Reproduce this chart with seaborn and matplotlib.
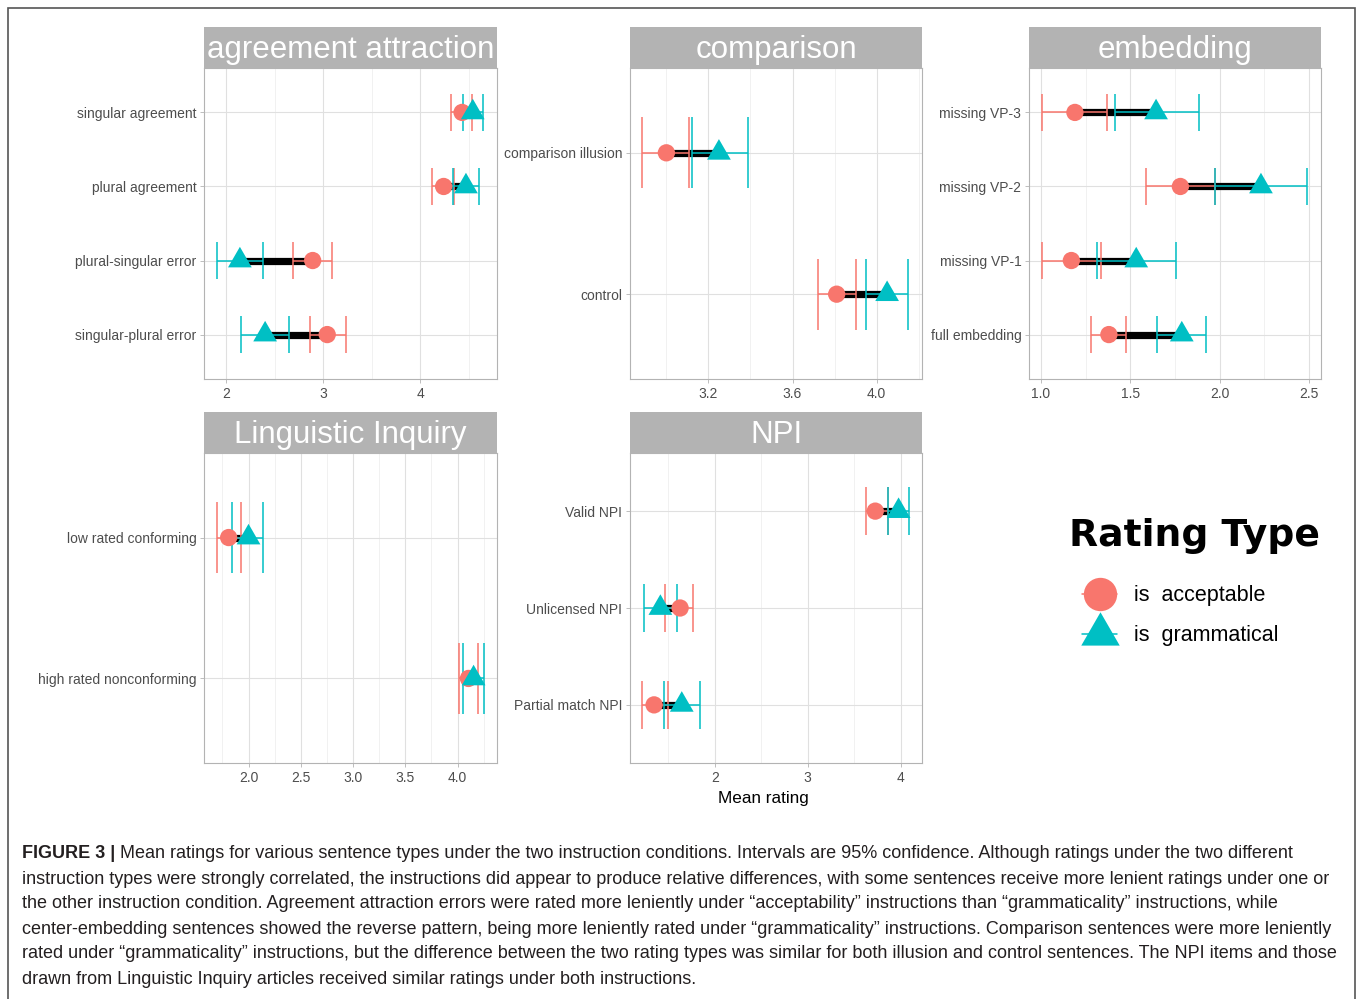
import matplotlib
matplotlib.use("Agg")
import matplotlib.pyplot as plt
import numpy as np
import pandas as pd
import seaborn as sns
from matplotlib.lines import Line2D
from matplotlib.path import Path
from matplotlib.patches import Rectangle
from matplotlib.markers import MarkerStyle
from matplotlib import font_manager

# ---------------- data ----------------
panel_titles = ["agreement attraction", "comparison", "embedding", "Linguistic Inquiry", "NPI"]
rating_types = ["is  acceptable", "is  grammatical"]

agr_items = ["singular agreement", "plural agreement", "plural-singular error", "singular-plural error"]
agr_acc = [4.43, 4.24, 2.89, 3.04]
agr_acc_lo = [4.32, 4.12, 2.69, 2.86]
agr_acc_hi = [4.53, 4.35, 3.09, 3.23]
agr_gram = [4.54, 4.47, 2.14, 2.40]
agr_gram_lo = [4.44, 4.34, 1.90, 2.15]
agr_gram_hi = [4.65, 4.60, 2.38, 2.65]

comp_items = ["comparison illusion", "control"]
comp_acc = [3.00, 3.81]
comp_acc_lo = [2.885, 3.72]
comp_acc_hi = [3.107, 3.90]
comp_gram = [3.25, 4.05]
comp_gram_lo = [3.12, 3.95]
comp_gram_hi = [3.39, 4.15]

emb_items = ["missing VP-3", "missing VP-2", "missing VP-1", "full embedding"]
emb_acc = [1.19, 1.78, 1.17, 1.38]
emb_acc_lo = [1.007, 1.585, 1.004, 1.278]
emb_acc_hi = [1.372, 1.976, 1.337, 1.477]
emb_gram = [1.644, 2.231, 1.533, 1.788]
emb_gram_lo = [1.413, 1.976, 1.313, 1.648]
emb_gram_hi = [1.883, 2.49, 1.758, 1.924]

li_items = ["low rated conforming", "high rated nonconforming"]
li_acc = [1.81, 4.105]
li_acc_lo = [1.70, 4.01]
li_acc_hi = [1.93, 4.198]
li_gram = [2.00, 4.154]
li_gram_lo = [1.846, 4.05]
li_gram_hi = [2.138, 4.256]

npi_items = ["Valid NPI", "Unlicensed NPI", "Partial match NPI"]
npi_acc = [3.727, 1.627, 1.347]
npi_acc_lo = [3.627, 1.469, 1.214]
npi_acc_hi = [3.862, 1.767, 1.497]
npi_gram = [3.978, 1.415, 1.645]
npi_gram_lo = [3.864, 1.239, 1.458]
npi_gram_hi = [4.09, 1.598, 1.846]

x_label = "Mean rating"
legend_title = "Rating Type"
caption_bold = "FIGURE 3 |"
caption_lines = [
    "Mean ratings for various sentence types under the two instruction conditions. Intervals are 95% confidence. Although ratings under the two different",
    "instruction types were strongly correlated, the instructions did appear to produce relative differences, with some sentences receive more lenient ratings under one or",
    "the other instruction condition. Agreement attraction errors were rated more leniently under \u201cacceptability\u201d instructions than \u201cgrammaticality\u201d instructions, while",
    "center-embedding sentences showed the reverse pattern, being more leniently rated under \u201cgrammaticality\u201d instructions. Comparison sentences were more leniently",
    "rated under \u201cgrammaticality\u201d instructions, but the difference between the two rating types was similar for both illusion and control sentences. The NPI items and those",
    "drawn from Linguistic Inquiry articles received similar ratings under both instructions.",
]

# ---------------- style ----------------
sns.set_theme(style="white")
plt.rcParams['font.family'] = ['Liberation Sans', 'DejaVu Sans']

W, H, DPI = 1358, 999, 100
fig = plt.figure(figsize=(W / DPI, H / DPI), dpi=DPI)
fig.patch.set_facecolor("white")

RED = "#F8766D"
TEAL = "#00BFC4"
STRIP = "#B3B3B3"

tri_path = Path([(-1, -0.577), (1, -0.577), (0, 1.155), (-1, -0.577)],
                [Path.MOVETO, Path.LINETO, Path.LINETO, Path.CLOSEPOLY])
TRI = MarkerStyle(tri_path)


def rect(x0, y0, x1, y1):
    return [x0 / W, 1 - y1 / H, (x1 - x0) / W, (y1 - y0) / H]


def draw_panel(box, strip_box, title, items, acc, acc_lo, acc_hi, gram, gram_lo, gram_hi,
               xlim, major, minor, fmt):
    ax = fig.add_axes(rect(*box))
    n = len(items)
    pos = np.arange(n)
    df = pd.DataFrame({
        "pos": np.concatenate([pos, pos]),
        "mean": list(acc) + list(gram),
        "lo": list(acc_lo) + list(gram_lo),
        "hi": list(acc_hi) + list(gram_hi),
        "type": [rating_types[0]] * n + [rating_types[1]] * n,
    })
    # connecting segment between the two means
    ax.hlines(pos, acc, gram, color="black", lw=5.2, zorder=2)
    for t, col in zip(rating_types, [RED, TEAL]):
        sub = df[df["type"] == t]
        ax.hlines(sub["pos"], sub["lo"], sub["hi"], color=col, lw=1.1, zorder=3)
        ax.vlines(sub["lo"], sub["pos"] - 0.25, sub["pos"] + 0.25, color=col, lw=1.1, zorder=3)
        ax.vlines(sub["hi"], sub["pos"] - 0.25, sub["pos"] + 0.25, color=col, lw=1.1, zorder=3)
    sns.scatterplot(data=df, x="mean", y="pos", hue="type", style="type", size="type",
                    palette={rating_types[0]: RED, rating_types[1]: TEAL},
                    markers={rating_types[0]: "o", rating_types[1]: TRI},
                    sizes={rating_types[0]: 155, rating_types[1]: 390},
                    linewidth=0, legend=False, ax=ax, zorder=4)
    ax.set_xlim(*xlim)
    ax.set_ylim(n - 1 + 0.6, -0.6)
    ax.set_xticks(major)
    ax.set_xticks(minor, minor=True)
    ax.set_xticklabels([fmt.format(v) for v in major])
    ax.set_yticks(pos)
    ax.set_yticklabels(items)
    ax.grid(which="major", color="#E0E0E0", lw=0.8)
    ax.grid(which="minor", axis="x", color="#EBEBEB", lw=0.5)
    ax.set_axisbelow(True)
    for s in ax.spines.values():
        s.set_visible(True)
        s.set_color("#B3B3B3")
        s.set_linewidth(0.8)
    ax.tick_params(axis="both", which="major", length=3, width=0.6, color="#B3B3B3",
                   labelsize=10, labelcolor="#4D4D4D", pad=2.5, bottom=True, left=True)
    ax.tick_params(which="minor", length=0)
    ax.set_xlabel("")
    ax.set_ylabel("")
    # strip
    sax = fig.add_axes(rect(*strip_box))
    sax.set_facecolor(STRIP)
    sax.set_xticks([])
    sax.set_yticks([])
    for s in sax.spines.values():
        s.set_visible(False)
    sax.text(0.5, 0.43, title, ha="center", va="center", color="white", fontsize=22.5,
             transform=sax.transAxes)
    return ax


draw_panel((204, 68, 497, 379), (204, 27, 497, 68), panel_titles[0], agr_items,
           agr_acc, agr_acc_lo, agr_acc_hi, agr_gram, agr_gram_lo, agr_gram_hi,
           (1.77, 4.79), [2, 3, 4], [2.5, 3.5, 4.5], "{:.0f}")
draw_panel((630, 68, 922, 379), (630, 27, 922, 68), panel_titles[1], comp_items,
           comp_acc, comp_acc_lo, comp_acc_hi, comp_gram, comp_gram_lo, comp_gram_hi,
           (2.827, 4.216), [3.2, 3.6, 4.0], [3.0, 3.4, 3.8, 4.2], "{:.1f}")
draw_panel((1029, 68, 1321, 379), (1029, 27, 1321, 68), panel_titles[2], emb_items,
           emb_acc, emb_acc_lo, emb_acc_hi, emb_gram, emb_gram_lo, emb_gram_hi,
           (0.933, 2.567), [1.0, 1.5, 2.0, 2.5], [1.25, 1.75, 2.25], "{:.1f}")
draw_panel((204, 453, 497, 763), (204, 412, 497, 453), panel_titles[3], li_items,
           li_acc, li_acc_lo, li_acc_hi, li_gram, li_gram_lo, li_gram_hi,
           (1.574, 4.378), [2.0, 2.5, 3.0, 3.5, 4.0], [1.75, 2.25, 2.75, 3.25, 3.75, 4.25], "{:.1f}")
draw_panel((630, 453, 922, 763), (630, 412, 922, 453), panel_titles[4], npi_items,
           npi_acc, npi_acc_lo, npi_acc_hi, npi_gram, npi_gram_lo, npi_gram_hi,
           (1.088, 4.23), [2, 3, 4], [1.5, 2.5, 3.5], "{:.0f}")

# x axis title
fig.text(763 / W, 1 - 798 / H, x_label, ha="center", va="center", fontsize=12.3, color="black")

# legend
fig.text(1069 / W, 1 - 536 / H, legend_title, ha="left", va="center", fontsize=27.2,
         fontweight="bold", family="DejaVu Sans", color="black")
for (yy, col, mk, ms, lab) in [(594, RED, "o", 24, rating_types[0]),
                               (634, TEAL, TRI, 32, rating_types[1])]:
    fig.add_artist(Line2D([1082 / W, 1117 / W], [1 - yy / H, 1 - yy / H], color=col, lw=1.1,
                          transform=fig.transFigure))
    fig.add_artist(Line2D([1099.5 / W], [1 - yy / H], color=col, marker=mk, markersize=ms,
                          markeredgewidth=0, lw=0, transform=fig.transFigure))
    fig.text(1134 / W, 1 - (yy + 1) / H, lab, ha="left", va="center", fontsize=15.5, color="black")

# caption
names = {f.name for f in font_manager.fontManager.ttflist}
cap_family = ["Liberation Sans Narrow", "Liberation Sans"] if "Liberation Sans Narrow" in names else ["Liberation Sans"]
renderer = fig.canvas.get_renderer()
CAPC = "#231F20"


def width_px(txt, fs, weight="normal"):
    t = fig.text(0, 0, txt, fontsize=fs, fontweight=weight, family=cap_family)
    w = t.get_window_extent(renderer).width
    t.remove()
    return w

test_fs = 10.0
wb = width_px(caption_bold + " ", test_fs, "bold")
wr = width_px(caption_lines[0], test_fs)
cap_fs = test_fs * (1301 - 22) / (wb + wr)

line_y = [854, 879, 904, 929, 954, 980]
bw = width_px(caption_bold + " ", cap_fs, "bold")
fig.text(22 / W, 1 - line_y[0] / H, caption_bold, ha="left", va="center", fontsize=cap_fs,
         fontweight="bold", family=cap_family, color=CAPC)
fig.text((22 + bw) / W, 1 - line_y[0] / H, caption_lines[0], ha="left", va="center",
         fontsize=cap_fs, family=cap_family, color=CAPC)
for yy, line in zip(line_y[1:], caption_lines[1:]):
    fig.text(22 / W, 1 - yy / H, line, ha="left", va="center", fontsize=cap_fs,
             family=cap_family, color=CAPC)

# outer frame
fig.add_artist(Rectangle((8 / W, -0.02), (1355 - 8) / W, 1 - 8 / H + 0.02, transform=fig.transFigure,
                         fill=False, ec="#555555", lw=1.2))

fig.savefig("out.png", dpi=DPI, facecolor="white")
